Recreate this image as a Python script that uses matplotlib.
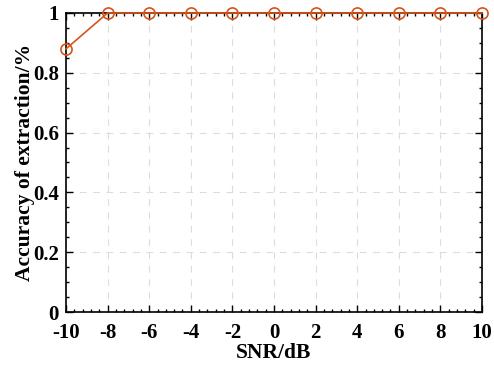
import matplotlib.pyplot as plt
from matplotlib.ticker import AutoMinorLocator

snr = [-10, -8, -6, -4, -2, 0, 2, 4, 6, 8, 10]
accuracy = [0.88, 1, 1, 1, 1, 1, 1, 1, 1, 1, 1]

plt.rcParams['font.family'] = ['Liberation Serif', 'DejaVu Serif']
plt.rcParams['font.weight'] = 'bold'
plt.rcParams['axes.unicode_minus'] = False

fig = plt.figure(figsize=(4.94, 3.65), dpi=100)
ax = fig.add_axes([0.1336, 0.1452, 0.8421, 0.8192])

ax.plot(snr, accuracy, color='#D95319', linewidth=1.2, marker='o',
        markersize=8, markerfacecolor='none', markeredgewidth=1.2,
        clip_on=False, zorder=5)

ax.set_xlim(-10, 10)
ax.set_ylim(0, 1)
ax.set_xticks(snr)
ax.set_yticks([0, 0.2, 0.4, 0.6, 0.8, 1])
ax.set_yticklabels(['0', '0.2', '0.4', '0.6', '0.8', '1'])
ax.xaxis.set_minor_locator(AutoMinorLocator(5))
ax.yaxis.set_minor_locator(AutoMinorLocator(4))
ax.tick_params(which='both', direction='in', top=True, right=True,
               labelsize=15, width=1)
ax.tick_params(which='major', length=5)
ax.tick_params(which='minor', length=2.5)
ax.tick_params(axis='x', pad=8)
ax.tick_params(axis='y', pad=5)
for s in ax.spines.values():
    s.set_linewidth(1.2)

ax.grid(True, which='major', linestyle=(0, (6, 6)), color='#dcdcdc',
        linewidth=0.8)
ax.set_axisbelow(True)

ax.set_xlabel('SNR/dB', fontsize=15.5, fontweight='bold', labelpad=0)
ax.set_ylabel('Accuracy of extraction/%', fontsize=15.5, fontweight='bold',
              labelpad=-1.5)

fig.savefig('out.png', dpi=100)
